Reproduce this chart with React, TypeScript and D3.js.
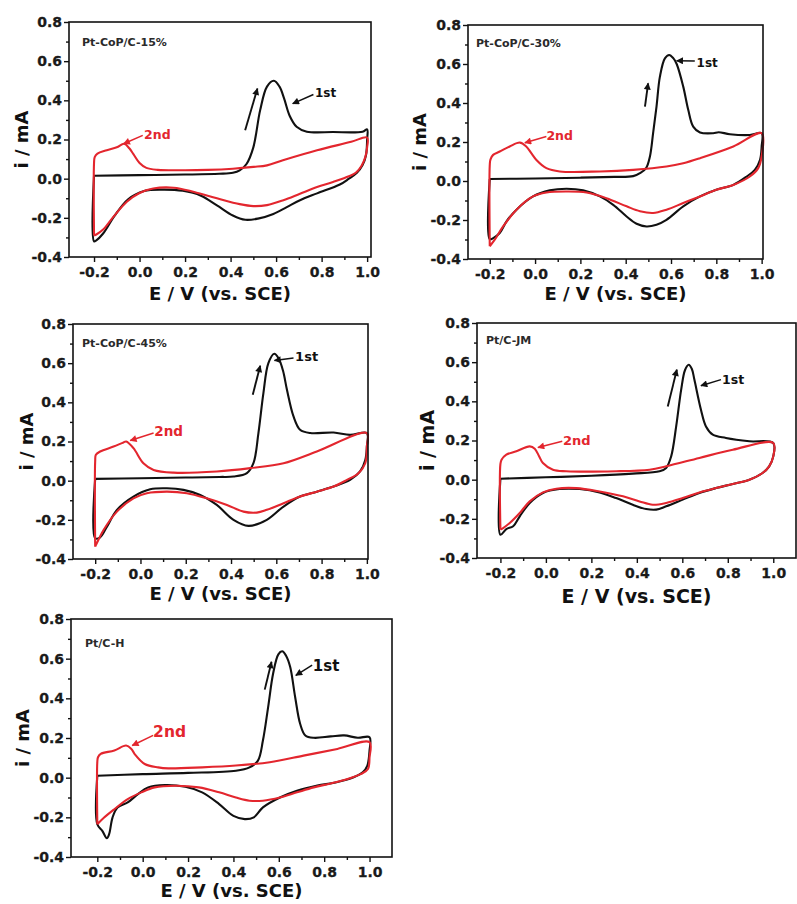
import React, { useEffect, useRef } from 'react';
import * as d3 from 'd3';

type Pt = [number, number];

// sample names shown in the corner of each panel
const panelNames = ['Pt-CoP/C-15%', 'Pt-CoP/C-30%', 'Pt-CoP/C-45%', 'Pt/C-JM', 'Pt/C-H'];
const cycleLabels = ['1st', '2nd'];

const xTicks = [-0.2, 0.0, 0.2, 0.4, 0.6, 0.8, 1.0];
const xMinor = [-0.1, 0.1, 0.3, 0.5, 0.7, 0.9];
const yTicks = [-0.4, -0.2, 0.0, 0.2, 0.4, 0.6, 0.8];
const yMinor = [-0.3, -0.1, 0.1, 0.3, 0.5, 0.7];

// [E (V vs SCE), i (mA)] in scan order: forward sweep, then reverse sweep
const first15: Pt[] = [
    [-0.2, 0.015], [0.0, 0.018], [0.2, 0.021], [0.35, 0.025], [0.41, 0.03], [0.44, 0.042], [0.47, 0.075],
    [0.5, 0.16], [0.53, 0.35], [0.56, 0.47], [0.59, 0.5], [0.615, 0.47], [0.635, 0.41], [0.66, 0.32],
    [0.69, 0.265], [0.735, 0.24], [0.85, 0.238], [0.98, 0.24], [1.0, 0.252],
    [1.0, 0.2], [0.995, 0.12], [0.98, 0.07], [0.955, 0.03], [0.92, 0.0], [0.88, -0.03], [0.78, -0.075],
    [0.705, -0.11], [0.647, -0.145], [0.588, -0.18], [0.52, -0.204], [0.465, -0.21], [0.41, -0.188],
    [0.34, -0.136], [0.27, -0.087], [0.19, -0.062], [0.1, -0.056], [0.02, -0.063], [-0.05, -0.105],
    [-0.11, -0.19], [-0.16, -0.28], [-0.19, -0.315], [-0.2, -0.32], [-0.2, 0.015],
];
const second15: Pt[] = [
    [-0.2, -0.29], [-0.2, 0.08], [-0.197, 0.11], [-0.185, 0.128], [-0.144, 0.145], [-0.1, 0.16],
    [-0.068, 0.178], [-0.045, 0.155], [-0.027, 0.125], [0.0, 0.08], [0.03, 0.055], [0.08, 0.045],
    [0.2, 0.043], [0.3, 0.045], [0.41, 0.051], [0.5, 0.06], [0.56, 0.068], [0.63, 0.094], [0.78, 0.145],
    [0.93, 0.188], [1.0, 0.21],
    [1.0, 0.16], [0.992, 0.11], [0.975, 0.065], [0.95, 0.03], [0.92, 0.012], [0.85, -0.017], [0.78, -0.043],
    [0.705, -0.077], [0.632, -0.11], [0.56, -0.135], [0.5, -0.14], [0.44, -0.13], [0.34, -0.1],
    [0.24, -0.068], [0.15, -0.046], [0.06, -0.05], [0.0, -0.073], [-0.056, -0.118], [-0.115, -0.195],
    [-0.16, -0.26], [-0.19, -0.285], [-0.2, -0.29],
];

const first30: Pt[] = [
    [-0.2, 0.01], [0.0, 0.013], [0.2, 0.017], [0.35, 0.021], [0.433, 0.025], [0.463, 0.04], [0.49, 0.066],
    [0.507, 0.126], [0.521, 0.245], [0.536, 0.382], [0.551, 0.535], [0.573, 0.629], [0.592, 0.646],
    [0.61, 0.63], [0.625, 0.6], [0.654, 0.484], [0.676, 0.365], [0.698, 0.279], [0.728, 0.249],
    [0.786, 0.245], [0.81, 0.25], [0.86, 0.24], [0.948, 0.236], [1.0, 0.245],
    [1.0, 0.177], [0.993, 0.109], [0.97, 0.057], [0.934, 0.023], [0.875, -0.02], [0.8, -0.045],
    [0.728, -0.079], [0.654, -0.13], [0.58, -0.199], [0.536, -0.224], [0.492, -0.233], [0.448, -0.219],
    [0.404, -0.182], [0.345, -0.122], [0.286, -0.079], [0.212, -0.048], [0.139, -0.04], [0.065, -0.048],
    [-0.009, -0.079], [-0.082, -0.147], [-0.126, -0.207], [-0.156, -0.267], [-0.185, -0.293],
    [-0.2, -0.298], [-0.2, 0.01],
];
const second30: Pt[] = [
    [-0.2, -0.335], [-0.2, 0.08], [-0.197, 0.11], [-0.185, 0.134], [-0.156, 0.151], [-0.112, 0.177],
    [-0.067, 0.197], [-0.04, 0.178], [-0.015, 0.14], [0.006, 0.108], [0.05, 0.066], [0.109, 0.049],
    [0.286, 0.049], [0.433, 0.057], [0.58, 0.074], [0.654, 0.091], [0.728, 0.117], [0.875, 0.177],
    [1.0, 0.245],
    [1.0, 0.126], [0.985, 0.066], [0.948, 0.023], [0.875, -0.02], [0.8, -0.045], [0.728, -0.079],
    [0.654, -0.113], [0.58, -0.147], [0.521, -0.164], [0.463, -0.155], [0.404, -0.13], [0.315, -0.088],
    [0.227, -0.059], [0.139, -0.054], [0.05, -0.059], [-0.009, -0.079], [-0.082, -0.147],
    [-0.141, -0.233], [-0.178, -0.301], [-0.2, -0.335],
];

const first45: Pt[] = [
    [-0.2, 0.009], [0.0, 0.012], [0.2, 0.016], [0.35, 0.019], [0.411, 0.021], [0.47, 0.038], [0.499, 0.089],
    [0.521, 0.243], [0.543, 0.447], [0.565, 0.6], [0.591, 0.648], [0.61, 0.625], [0.63, 0.56],
    [0.647, 0.464], [0.676, 0.328], [0.705, 0.26], [0.75, 0.243], [0.853, 0.246], [0.926, 0.234],
    [1.0, 0.243],
    [1.0, 0.174], [0.993, 0.106], [0.97, 0.047], [0.926, 0.004], [0.853, -0.03], [0.779, -0.056],
    [0.705, -0.081], [0.632, -0.132], [0.558, -0.2], [0.477, -0.231], [0.411, -0.2], [0.337, -0.124],
    [0.264, -0.073], [0.19, -0.047], [0.117, -0.039], [0.043, -0.044], [-0.031, -0.081], [-0.104, -0.149],
    [-0.148, -0.235], [-0.178, -0.289], [-0.2, -0.294], [-0.2, 0.009],
];
const second45: Pt[] = [
    [-0.2, -0.337], [-0.2, 0.1], [-0.197, 0.132], [-0.178, 0.149], [-0.119, 0.174], [-0.075, 0.195],
    [-0.063, 0.2], [-0.031, 0.166], [0.013, 0.089], [0.058, 0.055], [0.146, 0.041], [0.337, 0.047],
    [0.485, 0.064], [0.632, 0.089], [0.779, 0.149], [1.0, 0.243],
    [1.0, 0.174], [0.993, 0.089], [0.963, 0.038], [0.912, 0.004], [0.853, -0.03], [0.779, -0.056],
    [0.705, -0.081], [0.632, -0.115], [0.558, -0.149], [0.514, -0.163], [0.455, -0.158], [0.382, -0.124],
    [0.293, -0.09], [0.205, -0.064], [0.117, -0.056], [0.028, -0.064], [-0.031, -0.09], [-0.104, -0.158],
    [-0.163, -0.252], [-0.193, -0.32], [-0.2, -0.337],
];

const firstJM: Pt[] = [
    [-0.2, 0.005], [0.0, 0.012], [0.2, 0.02], [0.382, 0.031], [0.5, 0.043], [0.529, 0.06], [0.551, 0.119],
    [0.573, 0.272], [0.595, 0.46], [0.612, 0.56], [0.628, 0.587], [0.642, 0.565], [0.653, 0.511],
    [0.682, 0.357], [0.704, 0.272], [0.734, 0.23], [0.792, 0.213], [0.895, 0.196], [1.0, 0.187],
    [1.0, 0.119], [0.982, 0.068], [0.953, 0.034], [0.895, 0.0], [0.822, -0.022], [0.748, -0.043],
    [0.675, -0.068], [0.602, -0.102], [0.529, -0.136], [0.485, -0.153], [0.441, -0.15], [0.382, -0.128],
    [0.309, -0.094], [0.236, -0.065], [0.148, -0.048], [0.06, -0.048], [-0.013, -0.068], [-0.071, -0.119],
    [-0.115, -0.187], [-0.144, -0.238], [-0.174, -0.252], [-0.2, -0.281], [-0.2, 0.005],
];
const secondJM: Pt[] = [
    [-0.2, -0.255], [-0.2, 0.08], [-0.195, 0.102], [-0.174, 0.128], [-0.13, 0.145], [-0.071, 0.17],
    [-0.049, 0.158], [-0.03, 0.12], [-0.013, 0.085], [0.031, 0.051], [0.09, 0.043], [0.309, 0.043],
    [0.456, 0.051], [0.529, 0.068], [0.675, 0.111], [0.822, 0.153], [1.0, 0.187],
    [1.0, 0.119], [0.982, 0.068], [0.953, 0.034], [0.895, 0.0], [0.822, -0.022], [0.748, -0.043],
    [0.675, -0.065], [0.602, -0.094], [0.529, -0.119], [0.47, -0.128], [0.412, -0.111], [0.339, -0.085],
    [0.236, -0.06], [0.134, -0.043], [0.046, -0.046], [-0.013, -0.065], [-0.071, -0.111], [-0.115, -0.17],
    [-0.159, -0.221], [-0.188, -0.247], [-0.2, -0.255],
];

const firstH: Pt[] = [
    [-0.2, 0.01], [0.0, 0.018], [0.2, 0.024], [0.411, 0.035], [0.471, 0.052], [0.508, 0.086], [0.53, 0.187],
    [0.553, 0.356], [0.575, 0.525], [0.598, 0.622], [0.615, 0.637], [0.632, 0.615], [0.65, 0.559],
    [0.672, 0.407], [0.694, 0.272], [0.717, 0.213], [0.754, 0.201], [0.829, 0.208], [0.888, 0.213],
    [0.948, 0.201], [1.0, 0.204],
    [1.0, 0.137], [0.99, 0.06], [0.97, 0.027], [0.93, 0.002], [0.85, -0.024], [0.77, -0.04], [0.68, -0.066],
    [0.605, -0.1], [0.53, -0.15], [0.49, -0.2], [0.45, -0.209], [0.4, -0.193], [0.337, -0.133],
    [0.262, -0.074], [0.188, -0.046], [0.098, -0.037], [0.024, -0.049], [-0.021, -0.083], [-0.066, -0.125],
    [-0.111, -0.151], [-0.133, -0.201], [-0.148, -0.285], [-0.158, -0.305], [-0.178, -0.268],
    [-0.2, -0.235], [-0.2, 0.01],
];
const secondH: Pt[] = [
    [-0.2, -0.235], [-0.2, 0.08], [-0.197, 0.103], [-0.185, 0.12], [-0.125, 0.137], [-0.073, 0.162],
    [-0.05, 0.145], [-0.036, 0.12], [0.009, 0.069], [0.068, 0.052], [0.113, 0.047], [0.262, 0.052],
    [0.411, 0.061], [0.56, 0.078], [0.709, 0.111], [0.858, 0.145], [1.0, 0.179],
    [1.0, 0.103], [0.993, 0.044], [0.963, 0.019], [0.903, -0.007], [0.829, -0.029], [0.754, -0.049],
    [0.68, -0.074], [0.605, -0.1], [0.53, -0.116], [0.471, -0.116], [0.411, -0.1], [0.337, -0.074],
    [0.247, -0.049], [0.143, -0.041], [0.053, -0.049], [-0.006, -0.074], [-0.066, -0.108],
    [-0.125, -0.159], [-0.17, -0.201], [-0.2, -0.235],
];

const firstCycles = [first15, first30, first45, firstJM, firstH];
const secondCycles = [second15, second30, second45, secondJM, secondH];

// where the "1st"/"2nd" labels sit and where their arrows point, in data units
const firstNotes: { at: Pt; from: Pt; to: Pt }[] = [
    { at: [0.771, 0.417], from: [0.764, 0.43], to: [0.673, 0.383] },
    { at: [0.713, 0.583], from: [0.705, 0.615], to: [0.625, 0.617] },
    { at: [0.683, 0.613], from: [0.676, 0.626], to: [0.592, 0.614] },
    { at: [0.775, 0.489], from: [0.77, 0.511], to: [0.682, 0.48] },
    { at: [0.75, 0.538], from: [0.747, 0.567], to: [0.675, 0.516] },
];
const secondNotes: { at: Pt; from: Pt; to: Pt }[] = [
    { at: [0.02, 0.204], from: [0.014, 0.221], to: [-0.07, 0.178] },
    { at: [0.05, 0.211], from: [0.05, 0.228], to: [-0.045, 0.196] },
    { at: [0.061, 0.226], from: [0.058, 0.243], to: [-0.045, 0.205] },
    { at: [0.075, 0.179], from: [0.072, 0.196], to: [-0.035, 0.164] },
    { at: [0.046, 0.204], from: [0.046, 0.213], to: [-0.046, 0.162] },
];
// the small upward arrow showing the forward scan direction
const scanArrows: [Pt, Pt][] = [
    [[0.464, 0.247], [0.518, 0.46]],
    [[0.485, 0.382], [0.499, 0.501]],
    [[0.496, 0.439], [0.529, 0.587]],
    [[0.536, 0.374], [0.576, 0.562]],
    [[0.538, 0.444], [0.568, 0.584]],
];

// layout of each plot frame on the page
const frames = [
    { left: 69, top: 22, width: 302, height: 235, xDomain: [-0.31, 1.017], titleDx: 13, titleDy: 24, noteSize: 12, axisTitle: 18, xTitleGap: 43, yTitleGap: 47 },
    { left: 468, top: 25, width: 295, height: 234, xDomain: [-0.296, 1.006], titleDx: 8, titleDy: 22, noteSize: 12, axisTitle: 18, xTitleGap: 41, yTitleGap: 48 },
    { left: 73, top: 324, width: 295, height: 235, xDomain: [-0.298, 1.005], titleDx: 9, titleDy: 23, noteSize: 13, axisTitle: 18, xTitleGap: 41, yTitleGap: 46 },
    { left: 477, top: 323, width: 319, height: 235, xDomain: [-0.303, 1.1], titleDx: 9, titleDy: 21, noteSize: 12.5, axisTitle: 19, xTitleGap: 45, yTitleGap: 50 },
    { left: 71, top: 619, width: 321, height: 238, xDomain: [-0.316, 1.099], titleDx: 14, titleDy: 28, noteSize: 15, axisTitle: 18, xTitleGap: 40, yTitleGap: 48 },
];

const ink = '#111111';
const red = '#e3262e';
const font = '"DejaVu Sans", sans-serif';

function App() {
    const svgRef = useRef<SVGSVGElement>(null);

    useEffect(() => {
        const svg = d3.select(svgRef.current);
        svg.selectAll('*').remove();

        // arrow heads
        const defs = svg.append('defs');
        [['head-black', ink], ['head-red', red]].forEach(([id, color]) => {
            defs.append('marker')
                .attr('id', id)
                .attr('viewBox', '0 0 10 10')
                .attr('refX', 9)
                .attr('refY', 5)
                .attr('markerUnits', 'userSpaceOnUse')
                .attr('markerWidth', 8)
                .attr('markerHeight', 7)
                .attr('orient', 'auto')
                .append('path')
                .attr('d', 'M0,0 L10,5 L0,10 Z')
                .attr('fill', color);
        });

        frames.forEach((f, i) => {
            const g = svg.append('g').attr('transform', `translate(${f.left},${f.top})`);

            const x = d3.scaleLinear().domain(f.xDomain).range([0, f.width]);
            const y = d3.scaleLinear().domain([-0.4, 0.8]).range([f.height, 0]);

            // minor ticks
            g.append('g')
                .attr('transform', `translate(0,${f.height})`)
                .call(d3.axisBottom(x).tickValues(xMinor).tickSize(3).tickFormat(() => ''))
                .call(a => a.select('.domain').remove());
            g.append('g')
                .call(d3.axisLeft(y).tickValues(yMinor).tickSize(3).tickFormat(() => ''))
                .call(a => a.select('.domain').remove());

            // major ticks + labels
            const xAxis = g.append('g')
                .attr('transform', `translate(0,${f.height})`)
                .call(d3.axisBottom(x).tickValues(xTicks).tickSize(5).tickPadding(5)
                    .tickFormat(d => (d as number).toFixed(1)));
            const yAxis = g.append('g')
                .call(d3.axisLeft(y).tickValues(yTicks).tickSize(5).tickPadding(2)
                    .tickFormat(d => (d as number).toFixed(1)));
            [xAxis, yAxis].forEach(a => {
                a.select('.domain').remove();
                a.selectAll('text')
                    .style('font-family', font)
                    .style('font-weight', 'bold')
                    .style('font-size', '14px')
                    .attr('fill', '#1a1a1a')
                    .attr('stroke', '#1a1a1a')
                    .attr('stroke-width', 0.3);
            });
            g.selectAll('.tick line').attr('stroke', ink).attr('stroke-width', 1.4);

            const line = d3.line<Pt>()
                .x(d => x(d[0]))
                .y(d => y(d[1]))
                .curve(d3.curveCatmullRom.alpha(0.5));

            g.append('path')
                .attr('d', line(firstCycles[i]))
                .attr('fill', 'none')
                .attr('stroke', ink)
                .attr('stroke-width', 2.1)
                .attr('stroke-linejoin', 'round');
            g.append('path')
                .attr('d', line(secondCycles[i]))
                .attr('fill', 'none')
                .attr('stroke', red)
                .attr('stroke-width', 2.1)
                .attr('stroke-linejoin', 'round');

            // frame
            g.append('rect')
                .attr('width', f.width)
                .attr('height', f.height)
                .attr('fill', 'none')
                .attr('stroke', ink)
                .attr('stroke-width', 1.6);

            // sample name
            g.append('text')
                .attr('x', f.titleDx)
                .attr('y', f.titleDy)
                .style('font-family', font)
                .style('font-weight', 'bold')
                .style('font-size', '11px')
                .attr('fill', '#2a2a2a')
                .text(panelNames[i]);

            // cycle labels with arrows
            const notes = [firstNotes[i], secondNotes[i]];
            notes.forEach((n, k) => {
                const color = k === 0 ? ink : red;
                g.append('line')
                    .attr('x1', x(n.from[0]))
                    .attr('y1', y(n.from[1]))
                    .attr('x2', x(n.to[0]))
                    .attr('y2', y(n.to[1]))
                    .attr('stroke', color)
                    .attr('stroke-width', 1.5)
                    .attr('marker-end', `url(#${k === 0 ? 'head-black' : 'head-red'})`);
                g.append('text')
                    .attr('x', x(n.at[0]))
                    .attr('y', y(n.at[1]))
                    .style('font-family', font)
                    .style('font-weight', 'bold')
                    .style('font-size', `${k === 0 ? f.noteSize : f.noteSize + 0.5}px`)
                    .attr('fill', color)
                    .text(cycleLabels[k]);
            });

            const [s0, s1] = scanArrows[i];
            g.append('line')
                .attr('x1', x(s0[0]))
                .attr('y1', y(s0[1]))
                .attr('x2', x(s1[0]))
                .attr('y2', y(s1[1]))
                .attr('stroke', ink)
                .attr('stroke-width', 1.9)
                .attr('marker-end', 'url(#head-black)');

            // axis titles
            g.append('text')
                .attr('x', f.width / 2)
                .attr('y', f.height + f.xTitleGap)
                .attr('text-anchor', 'middle')
                .style('font-family', font)
                .style('font-weight', 'bold')
                .style('font-size', `${f.axisTitle}px`)
                .attr('fill', ink)
                .text('E / V (vs. SCE)');
            g.append('text')
                .attr('transform', `translate(${-f.yTitleGap},${f.height / 2}) rotate(-90)`)
                .attr('text-anchor', 'middle')
                .attr('dy', '0.35em')
                .style('font-family', font)
                .style('font-weight', 'bold')
                .style('font-size', `${f.axisTitle}px`)
                .attr('fill', ink)
                .text('i / mA');
        });
    }, []);

    return (
        <svg
            ref={svgRef}
            width={797}
            height={904}
            style={{ position: 'absolute', left: 0, top: 0, background: '#fff' }}
        />
    );
}

export default App;
